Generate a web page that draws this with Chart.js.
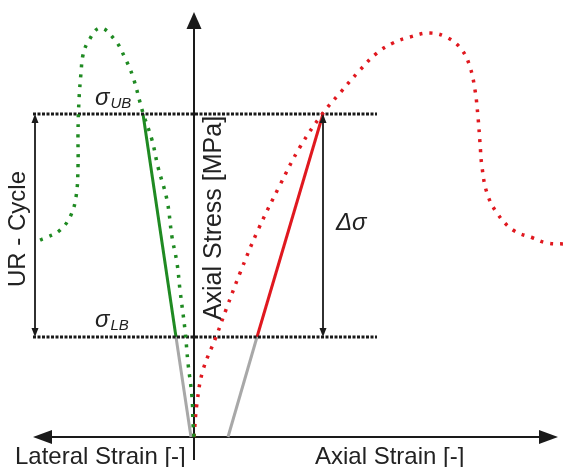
<!DOCTYPE html>
<html>
<head>
<meta charset="utf-8">
<script src="https://cdn.jsdelivr.net/npm/chart.js@4/dist/chart.umd.min.js"></script>
<style>
    html, body { margin: 0; padding: 0; background: #fff; }
    #wrap { width: 568px; height: 467px; position: relative; }
</style>
</head>
<body>
<div id="wrap"><canvas id="chart"></canvas></div>
<script>
// strain / stress in schematic units (origin = unloaded specimen)
const lateralStrain = [0, -1, -2, -6, -9, -14, -17, -22, -27, -36, -42, -51, -61, -69, -79, -94, -106, -111, -113, -115, -116, -116, -118, -124, -135, -149, -154];
const lateralStress = [0, 14, 40, 74, 107, 147, 174, 200, 237, 270, 297, 324, 360, 379, 397, 409, 395, 382, 364, 337, 304, 270, 240, 220, 206, 199, 197];

const axialStrain = [0, 3, 9, 22, 33, 46, 64, 86, 106, 129, 146, 166, 183, 199, 216, 236, 254, 268, 276, 281, 284, 286, 288, 293, 303, 319, 339, 353, 371];
const axialStress = [0, 34, 67, 100, 130, 164, 207, 252, 290, 324, 344, 367, 384, 394, 400, 404, 399, 387, 370, 347, 320, 294, 270, 244, 224, 207, 199, 194, 193];

// unloading-reloading cycle
const upperBound = 323;   // sigma_UB
const lowerBound = 100;   // sigma_LB
const lateralUR = [-51, -18];   // strain at UB, LB
const axialUR = [129, 63];
const lateralResidual = -3;     // extrapolated to zero stress
const axialResidual = 34;

const boundLineX = [-161, 183];

const green = '#1f8a22';
const red = '#e0181f';
const gray = '#a8a8a8';
const ink = '#1a1a1a';
const font = '"Liberation Sans", Arial, sans-serif';

function pts(xs, ys) {
    return xs.map((x, i) => ({ x: x, y: ys[i] }));
}

function arrowHead(ctx, x1, y1, x2, y2, len, wid) {
    const a = Math.atan2(y2 - y1, x2 - x1);
    ctx.beginPath();
    ctx.moveTo(x2, y2);
    ctx.lineTo(x2 - len * Math.cos(a) + wid / 2 * Math.sin(a), y2 - len * Math.sin(a) - wid / 2 * Math.cos(a));
    ctx.lineTo(x2 - len * Math.cos(a) - wid / 2 * Math.sin(a), y2 - len * Math.sin(a) + wid / 2 * Math.cos(a));
    ctx.closePath();
    ctx.fill();
}

function doubleArrow(ctx, x1, y1, x2, y2, len, wid, lw) {
    const a = Math.atan2(y2 - y1, x2 - x1);
    ctx.lineWidth = lw;
    ctx.beginPath();
    ctx.moveTo(x1 + Math.cos(a) * len * 0.8, y1 + Math.sin(a) * len * 0.8);
    ctx.lineTo(x2 - Math.cos(a) * len * 0.8, y2 - Math.sin(a) * len * 0.8);
    ctx.stroke();
    arrowHead(ctx, x1, y1, x2, y2, len, wid);
    arrowHead(ctx, x2, y2, x1, y1, len, wid);
}

function sigmaLabel(ctx, x, y, sub) {
    ctx.textBaseline = 'alphabetic';
    ctx.textAlign = 'left';
    ctx.font = 'italic 24px ' + font;
    ctx.fillText('σ', x, y);
    const w = ctx.measureText('σ').width;
    ctx.font = 'italic 15px ' + font;
    ctx.fillText(sub, x + w + 1, y + 3);
}

const annotate = {
    id: 'annotate',
    beforeDatasetsDraw(chart) {
        const ctx = chart.ctx;
        const sx = chart.scales.x, sy = chart.scales.y;
        const ox = sx.getPixelForValue(0), oy = sy.getPixelForValue(0);
        ctx.save();
        ctx.strokeStyle = ink;
        ctx.fillStyle = ink;
        ctx.lineWidth = 2;
        // horizontal axis, arrows both ways
        doubleArrow(ctx, sx.getPixelForValue(-161), oy, sx.getPixelForValue(364), oy, 19, 14, 2);
        // vertical axis
        ctx.beginPath();
        ctx.moveTo(ox, sy.getPixelForValue(-23));
        ctx.lineTo(ox, sy.getPixelForValue(412));
        ctx.stroke();
        arrowHead(ctx, ox, oy, ox, sy.getPixelForValue(425), 17, 15);
        ctx.restore();
    },
    afterDatasetsDraw(chart) {
        const ctx = chart.ctx;
        const sx = chart.scales.x, sy = chart.scales.y;
        const yU = sy.getPixelForValue(upperBound), yL = sy.getPixelForValue(lowerBound);
        ctx.save();
        ctx.strokeStyle = ink;
        ctx.fillStyle = ink;
        // UR cycle and delta sigma dimension arrows
        doubleArrow(ctx, sx.getPixelForValue(-159), yU, sx.getPixelForValue(-159), yL, 9, 7, 1.8);
        doubleArrow(ctx, sx.getPixelForValue(axialUR[0]), yU, sx.getPixelForValue(axialUR[0]), yL, 9, 7, 1.8);

        ctx.fillStyle = '#222';
        sigmaLabel(ctx, sx.getPixelForValue(-99), yU - 9, 'UB');
        sigmaLabel(ctx, sx.getPixelForValue(-99), yL - 10, 'LB');

        ctx.font = 'italic 24px ' + font;
        ctx.fillText('Δσ', sx.getPixelForValue(142), sy.getPixelForValue(207));

        ctx.font = '24px ' + font;
        ctx.fillText('Lateral Strain [-]', 15, 464);
        ctx.fillText('Axial Strain [-]', 315, 464);

        ctx.textAlign = 'center';
        ctx.textBaseline = 'middle';
        ctx.translate(18, 229);
        ctx.rotate(-Math.PI / 2);
        ctx.fillText('UR - Cycle', 0, 0);
        ctx.rotate(Math.PI / 2);
        ctx.translate(-18, -229);
        ctx.translate(214, 218);
        ctx.rotate(-Math.PI / 2);
        ctx.font = '25px ' + font;
        ctx.fillText('Axial Stress [MPa]', 0, 0);
        ctx.restore();
    }
};

const dotted = { borderDash: [3, 7], borderWidth: 3.5, tension: 0.4, pointRadius: 0, showLine: true, fill: false };
const solid = { borderWidth: 3, tension: 0, pointRadius: 0, showLine: true, fill: false };
const fine = { borderWidth: 3, borderDash: [3, 1.5] };

new Chart(document.getElementById('chart'), {
    type: 'scatter',
    data: {
        datasets: [
            Object.assign({ label: 'lateral', data: pts(lateralStrain, lateralStress), borderColor: green }, dotted),
            Object.assign({ label: 'axial', data: pts(axialStrain, axialStress), borderColor: red }, dotted),
            Object.assign({ label: 'upper bound', data: pts(boundLineX, [upperBound, upperBound]), borderColor: ink }, solid, fine),
            Object.assign({ label: 'lower bound', data: pts(boundLineX, [lowerBound, lowerBound]), borderColor: ink }, solid, fine),
            Object.assign({ label: 'lateral residual', data: pts([lateralUR[1], lateralResidual], [lowerBound, 0]), borderColor: gray }, solid),
            Object.assign({ label: 'axial residual', data: pts([axialUR[1], axialResidual], [lowerBound, 0]), borderColor: gray }, solid),
            Object.assign({ label: 'lateral UR', data: pts(lateralUR, [upperBound, lowerBound]), borderColor: green }, solid),
            Object.assign({ label: 'axial UR', data: pts(axialUR, [upperBound, lowerBound]), borderColor: red }, solid)
        ]
    },
    options: {
        responsive: true,
        maintainAspectRatio: false,
        animation: false,
        layout: { padding: 0 },
        plugins: { legend: { display: false }, tooltip: { enabled: false } },
        scales: {
            x: { type: 'linear', min: -194, max: 374, display: false },
            y: { type: 'linear', min: -30, max: 437, display: false }
        }
    },
    plugins: [annotate]
});
</script>
</body>
</html>
